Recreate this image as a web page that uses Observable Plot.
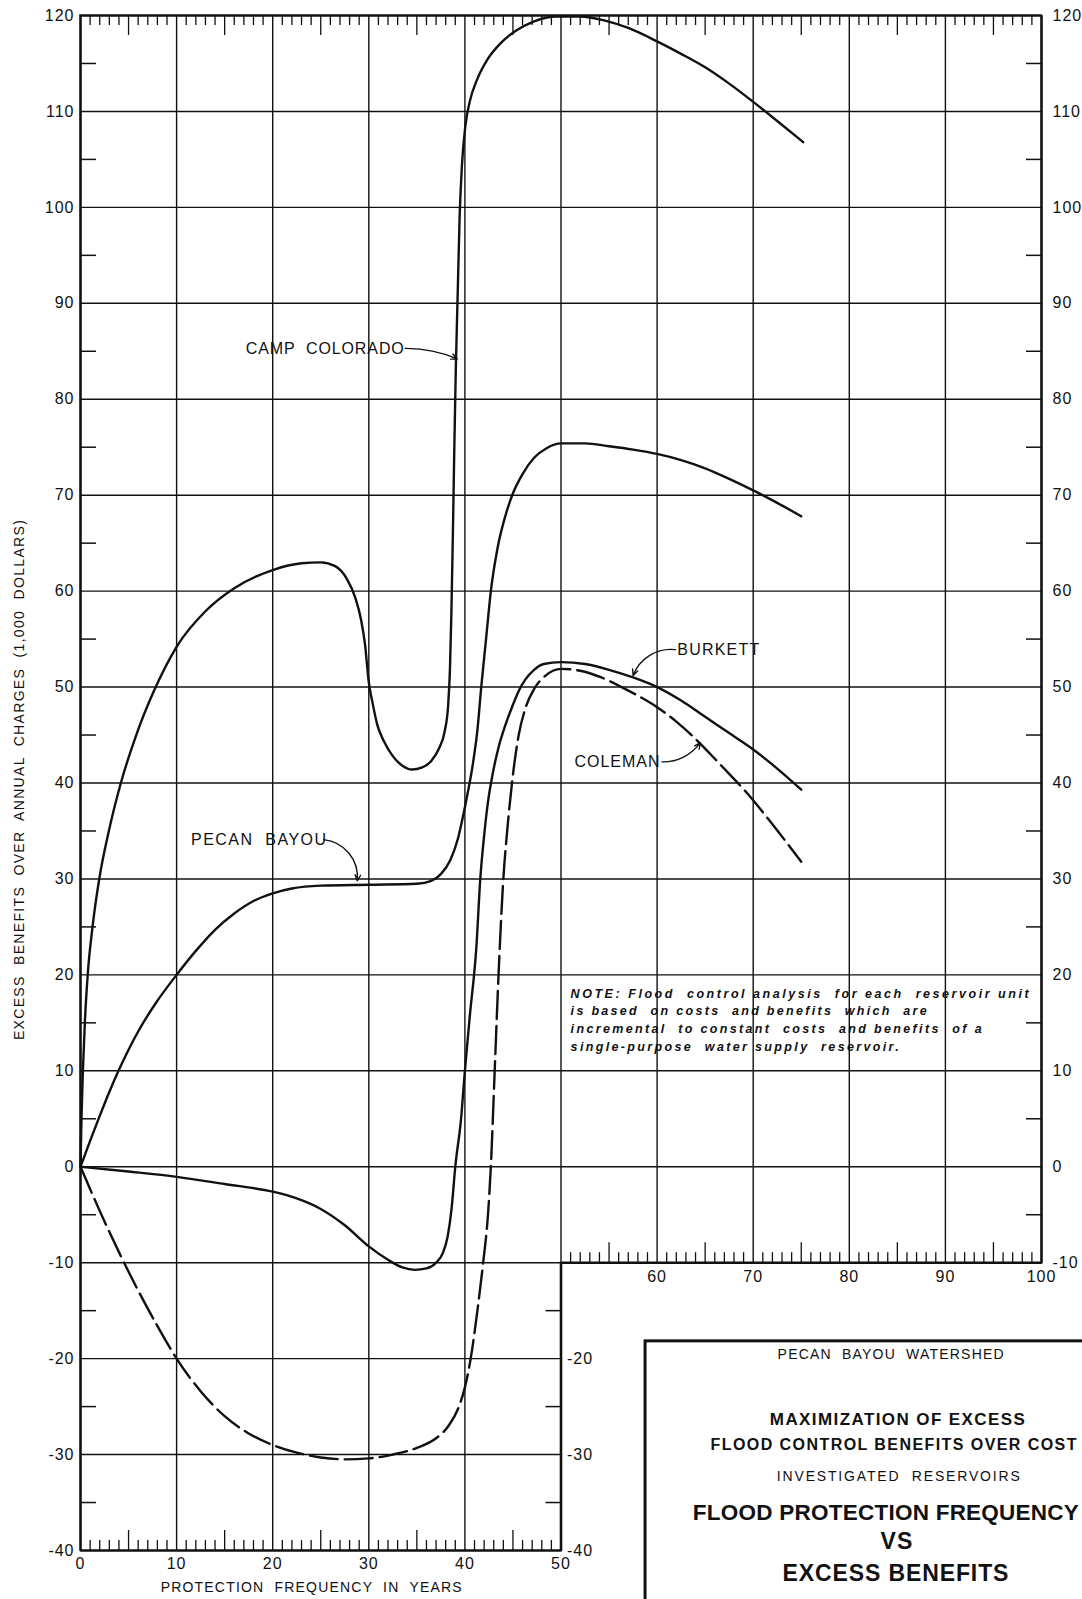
<!DOCTYPE html>
<html>
<head>
<meta charset="utf-8">
<script src="https://cdn.jsdelivr.net/npm/d3@7"></script>
<script src="https://cdn.jsdelivr.net/npm/@observablehq/plot@0.6"></script>
<style>
  html, body { margin: 0; padding: 0; background: #fff; overflow: hidden; }
  #chart svg { display: block; }
</style>
</head>
<body>
<div id="chart"></div>
<script>
// ---------------- DATA ----------------
// Protection frequency in years (x) vs excess benefits, $1,000 (y)
const campColorado = [
  [0,0],[0.1,5],[0.25,10],[0.45,15],[0.75,20],[1.25,25],[1.95,30],[2.95,35],[4.2,40],[5.8,45],
  [7.6,49.5],[10,54.2],[13,57.9],[16,60.3],[20,62.2],[23,62.9],[25,63],[26.5,62.6],[27.7,61.3],
  [28.6,59.3],[29.2,57],[29.6,54.5],[30,50.5],[30.4,48.3],[30.9,46],[31.6,44.3],[32.5,42.8],
  [33.5,41.8],[34.5,41.4],[35.5,41.6],[36.5,42.3],[37.3,43.6],[37.9,45.4],[38.25,48],[38.45,52],
  [38.6,58],[38.75,66],[38.9,75],[39.05,83],[39.25,91],[39.45,99],[39.7,104.5],[40.05,108.5],
  [40.5,111],[41.3,113.4],[42.4,115.5],[43.7,117.1],[45.3,118.4],[47.2,119.4],[49.5,119.9],
  [52,119.9],[54.5,119.5],[57,118.7],[60,117.3],[62.5,116],[65,114.6],[67.5,112.9],[70,111],
  [72.5,109],[75.2,106.8]
];
const pecanBayou = [
  [0,0],[1,2.7],[2,5.3],[3,7.8],[4,10.1],[5,12.2],[6,14.1],[8,17.3],[10,20],[12,22.5],[14,24.7],
  [16,26.4],[18,27.7],[20,28.5],[22,29],[25,29.3],[30,29.4],[35,29.5],[36.5,29.8],[37.5,30.5],
  [38.5,32],[39.3,34.3],[39.8,36.5],[40.3,39],[40.8,41.8],[41.3,45.5],[41.7,50],[42.2,55],[42.7,60],
  [43.4,64.5],[44.2,67.8],[45,70.2],[46,72.2],[47.2,73.9],[48.5,74.9],[50,75.4],[52.5,75.4],
  [55,75.1],[57.5,74.75],[60,74.3],[62.5,73.65],[65,72.8],[67.5,71.7],[70,70.5],[72.5,69.2],[75,67.8]
];
const burkett = [
  [0,0],[5,-0.5],[10,-1.05],[15,-1.8],[20,-2.6],[22.5,-3.3],[25,-4.4],[27.5,-6.1],[30,-8.3],
  [32,-9.7],[33.5,-10.5],[34.8,-10.75],[36,-10.6],[37,-10],[37.7,-9],[38.2,-7.3],[38.6,-4.5],
  [39,0],[39.6,5],[40,10],[40.5,15.6],[41.2,23],[41.6,30],[42,34.5],[42.4,38],[42.9,41],[43.5,43.7],
  [44.2,46],[44.9,47.9],[45.6,49.6],[46.3,50.8],[47.2,51.8],[48.2,52.4],[50,52.6],[52.5,52.4],
  [55,51.8],[57.5,51],[60,50],[62.5,48.6],[65,46.9],[67.5,45.2],[70,43.5],[72.5,41.5],[75,39.3]
];
const coleman = [
  [0,0],[2,-4.6],[4,-8.9],[6,-12.9],[8,-16.6],[10,-20],[12.5,-23.4],[15,-26],[17.5,-27.8],
  [20,-29],[22.5,-29.8],[25,-30.3],[27.5,-30.5],[30,-30.4],[32.5,-30],[35,-29.3],[37,-28.3],
  [38.3,-27],[39.3,-25.2],[40,-23],[40.6,-20],[41.3,-15],[41.9,-10],[42.4,-5],[42.7,0],
  [43.1,10],[43.5,20],[44,30],[44.4,35],[44.9,40],[45.6,45],[46.3,47.8],[47.2,49.8],[48.4,51.2],
  [50,51.9],[52,51.7],[54.2,51],[56.3,50],[58,49.1],[60,47.9],[62,46.4],[64.2,44.4],[66.5,42],
  [69.4,38.9],[72,35.7],[75,31.8]
];
const seriesNames = ["CAMP COLORADO", "PECAN BAYOU", "BURKETT", "COLEMAN"];

// tick labels
const xTickLabelsLeft = [0, 10, 20, 30, 40, 50];
const xTickLabelsRight = [60, 70, 80, 90, 100];
const yTickLabelsLeft = [120, 110, 100, 90, 80, 70, 60, 50, 40, 30, 20, 10, 0, -10, -20, -30, -40];
const yTickLabelsRight = [120, 110, 100, 90, 80, 70, 60, 50, 40, 30, 20, 10, 0, -10];
const yTickLabelsMid = [-20, -30, -40];

// texts
const xTitle = "PROTECTION  FREQUENCY  IN  YEARS";
const yTitle = "EXCESS  BENEFITS  OVER  ANNUAL  CHARGES  (1,000  DOLLARS)";
const noteLines = [
  "NOTE: Flood  control analysis  for each  reservoir unit",
  "is based  on costs  and benefits  which  are",
  "incremental  to constant  costs  and benefits  of a",
  "single-purpose  water supply  reservoir."
];
const titleLines = [
  "PECAN  BAYOU  WATERSHED",
  "MAXIMIZATION OF EXCESS",
  "FLOOD CONTROL BENEFITS OVER COST",
  "INVESTIGATED  RESERVOIRS",
  "FLOOD PROTECTION FREQUENCY",
  "VS",
  "EXCESS BENEFITS"
];

// ---------------- LAYOUT ----------------
const W = 1082, H = 1599;
const M = {left: 80, right: 41, top: 15, bottom: 49};
const pxX = (W - M.left - M.right) / 100;   // px per year
const pxY = (H - M.top - M.bottom) / 160;   // px per $1,000
const F = "Liberation Sans, Arial, sans-serif";
const INK = "#111";

const rows = [campColorado, pecanBayou, burkett, coleman].flatMap((pts, i) =>
  pts.map(([x, y]) => ({name: seriesNames[i], x, y})));

const frame = [[0,120],[100,120],[100,-10],[50,-10],[50,-40],[0,-40],[0,120]];
const xGrid = d3.range(10, 100, 10);
const yGrid = d3.range(-30, 120, 10);
const topTicks = d3.range(1, 100).filter(d => d % 10);
const botLeftTicks = d3.range(1, 50).filter(d => d % 10);
const botRightTicks = d3.range(51, 100).filter(d => d % 10);
const tickLen = d => (d % 5 === 0 ? 20 : 10) / pxY;

const curveLabels = [
  {text: "CAMP  COLORADO", x: 17.2, y: 85.2},
  {text: "PECAN  BAYOU", x: 11.5, y: 34.1},
  {text: "BURKETT", x: 62.1, y: 53.9},
  {text: "COLEMAN", x: 51.4, y: 42.2}
];
const noteRows = noteLines.map((t, i) => ({text: t, x: 51.0, y: [18.05, 16.2, 14.35, 12.45][i]}));
const titleRows = [
  {text: titleLines[0], x: 84.3, y: -19.6, size: 14, weight: "normal"},
  {text: titleLines[1], x: 85.0, y: -26.4, size: 17, weight: "bold"},
  {text: titleLines[2], x: 84.6, y: -29.0, size: 16, weight: "bold"},
  {text: titleLines[3], x: 85.1, y: -32.3, size: 14, weight: "normal"},
  {text: titleLines[4], x: 83.8, y: -36.1, size: 22.5, weight: "bold"},
  {text: titleLines[5], x: 84.9, y: -39.1, size: 23, weight: "bold"},
  {text: titleLines[6], x: 84.8, y: -42.4, size: 23, weight: "bold"}
];

// target widths (px) of lettering in the drawing
const textWidths = new Map([
  ["CAMP  COLORADO", 158], ["PECAN  BAYOU", 135], ["BURKETT", 82], ["COLEMAN", 85],
  [noteLines[0], 458], [noteLines[1], 356], [noteLines[2], 411], [noteLines[3], 328],
  [titleLines[0], 226], [titleLines[1], 255], [titleLines[2], 366], [titleLines[3], 243],
  [titleLines[4], 386], [titleLines[5], 32], [titleLines[6], 226],
  [xTitle, 301], [yTitle, 520]
]);

const arrowOpts = {stroke: INK, strokeWidth: 1.4, headLength: 7, headAngle: 50};
const curve = "monotone-x";

const svg = Plot.plot({
  width: W, height: H,
  marginLeft: M.left, marginRight: M.right, marginTop: M.top, marginBottom: M.bottom,
  style: {background: "white", overflow: "hidden", fontFamily: F},
  x: {domain: [0, 100], axis: null},
  y: {domain: [-40, 120], axis: null},
  marks: [
    // grid
    Plot.ruleX(xGrid, {x: d => d, y1: d => d <= 50 ? -40 : -10, y2: 120, stroke: INK, strokeWidth: 1.4}),
    Plot.ruleY(yGrid, {y: d => d, x1: 0, x2: d => d < -10 ? 50 : 100, stroke: INK, strokeWidth: 1.4}),
    // edge ticks
    Plot.ruleX(topTicks, {x: d => d, y1: 120, y2: d => 120 - tickLen(d), stroke: INK, strokeWidth: 1.3}),
    Plot.ruleX(botLeftTicks, {x: d => d, y1: -40, y2: d => -40 + tickLen(d), stroke: INK, strokeWidth: 1.3}),
    Plot.ruleX(botRightTicks, {x: d => d, y1: -10, y2: d => -10 + tickLen(d), stroke: INK, strokeWidth: 1.3}),
    Plot.ruleY(d3.range(-35, 120, 10), {y: d => d, x1: 0, x2: 16 / pxX, stroke: INK, strokeWidth: 1.5}),
    Plot.ruleY(d3.range(-5, 120, 10), {y: d => d, x1: 100 - 15 / pxX, x2: 100, stroke: INK, strokeWidth: 1.5}),
    Plot.ruleY([-15, -25, -35], {y: d => d, x1: 50 - 15 / pxX, x2: 50, stroke: INK, strokeWidth: 1.5}),
    // frame
    Plot.line(frame, {x: d => d[0], y: d => d[1], stroke: INK, strokeWidth: 2.6, strokeLinejoin: "miter", strokeLinecap: "square"}),
    // curves
    Plot.line(rows.filter(d => d.name !== "COLEMAN"), {x: "x", y: "y", z: "name", curve, stroke: INK, strokeWidth: 2.4}),
    Plot.line(rows.filter(d => d.name === "COLEMAN"), {x: "x", y: "y", curve, stroke: INK, strokeWidth: 2.4, strokeDasharray: "28,7"}),
    // tick labels
    Plot.text(yTickLabelsLeft, {x: 0, y: d => d, text: d => String(d), textAnchor: "end", dx: -6, fontSize: 16, fontFamily: F, fill: INK}),
    Plot.text(yTickLabelsRight, {x: 100, y: d => d, text: d => String(d), textAnchor: "start", dx: 11, fontSize: 16, fontFamily: F, fill: INK}),
    Plot.text(yTickLabelsMid, {x: 50, y: d => d, text: d => String(d), textAnchor: "start", dx: 6, fontSize: 16, fontFamily: F, fill: INK}),
    Plot.text(xTickLabelsLeft, {x: d => d, y: -40, text: d => String(d), dy: 13, fontSize: 16, fontFamily: F, fill: INK}),
    Plot.text(xTickLabelsRight, {x: d => d, y: -10, text: d => String(d), dy: 14, fontSize: 16, fontFamily: F, fill: INK}),
    // axis titles
    Plot.text([xTitle], {x: 24.0, y: -43.9, text: d => d, fontSize: 14, fontFamily: F, fill: INK}),
    Plot.text([yTitle], {x: -6.3, y: 40.3, text: d => d, rotate: -90, fontSize: 14, fontFamily: F, fill: INK}),
    // curve labels + leaders
    Plot.text(curveLabels, {x: "x", y: "y", text: "text", textAnchor: "start", fontSize: 16, fontFamily: F, fill: INK}),
    Plot.arrow([0], {x1: 33.8, y1: 85.3, x2: 39.2, y2: 84.2, bend: 12, ...arrowOpts}),
    Plot.arrow([0], {x1: 25.3, y1: 34.1, x2: 28.8, y2: 29.8, bend: 45, ...arrowOpts}),
    Plot.arrow([0], {x1: 61.9, y1: 53.9, x2: 57.5, y2: 51.2, bend: -38, ...arrowOpts}),
    Plot.arrow([0], {x1: 60.5, y1: 42.2, x2: 64.5, y2: 44.2, bend: -28, ...arrowOpts}),
    // note
    Plot.text(noteRows, {x: "x", y: "y", text: "text", textAnchor: "start", fontSize: 12.5, fontStyle: "italic", fontWeight: "bold", fontFamily: F, fill: INK}),
    // title block
    Plot.rect([0], {x1: 58.8, x2: 140, y1: -18.2, y2: -70, fill: "none", stroke: INK, strokeWidth: 3}),
    ...titleRows.map(r => Plot.text([r], {x: "x", y: "y", text: "text", fontSize: r.size, fontWeight: r.weight, fontFamily: F, fill: INK}))
  ]
});

d3.select(svg).selectAll("text").each(function() {
  const t = this.textContent;
  if (textWidths.has(t)) {
    this.setAttribute("textLength", textWidths.get(t));
    this.setAttribute("lengthAdjust", "spacing");
  } else if (/^-?\d+$/.test(t)) {
    this.setAttribute("letter-spacing", "1");
  }
});

document.getElementById("chart").appendChild(svg);
</script>
</body>
</html>
